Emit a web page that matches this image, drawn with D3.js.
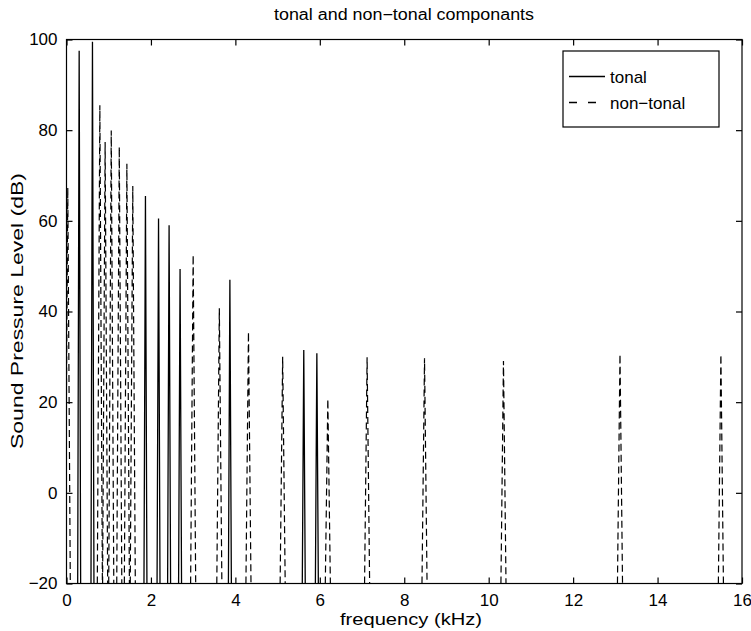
<!DOCTYPE html>
<html>
<head>
<meta charset="utf-8">
<script src="https://cdn.jsdelivr.net/npm/d3@7/dist/d3.min.js"></script>
<style>
  html, body { margin: 0; padding: 0; background: #fff; }
  svg { display: block; }
  text { font-family: "Liberation Sans", Arial, Helvetica, sans-serif; fill: #000; }
</style>
</head>
<body>
<svg id="chart" width="751" height="631"></svg>
<script>
// ---- data ----
const tonalFreq = [0.30, 0.615, 1.87, 2.18, 2.43, 2.69, 3.87, 5.62, 5.93];
const tonalSPL  = [97.5, 99.5, 65.5, 60.5, 59.0, 49.4, 47.0, 31.5, 30.8];

const nonTonalFreq = [0.03, 0.79, 0.915, 1.06, 1.25, 1.43, 1.57, 3.00, 3.62, 4.31, 5.12, 6.19, 7.12, 8.48, 10.35, 13.11, 15.50];
const nonTonalSPL  = [67.3, 85.5, 77.4, 79.9, 76.3, 72.6, 67.7, 52.5, 40.7, 35.5, 30.0, 20.7, 29.9, 29.7, 29.1, 30.6, 30.5];

const xTicks = [0, 2, 4, 6, 8, 10, 12, 14, 16];
const yTicks = [-20, 0, 20, 40, 60, 80, 100];
const floorLevel = -20;

const titleText = "tonal and non\u2212tonal componants";
const xLabel = "frequency (kHz)";
const yLabel = "Sound Pressure Level (dB)";
const legendLabels = ["tonal", "non\u2212tonal"];

// ---- layout ----
const margin = { left: 66.5, right: 9, top: 39.5, bottom: 47.5 };
const W = 751, H = 631;
const svg = d3.select("#chart");

const x = d3.scaleLinear().domain([0, 16]).range([margin.left, W - margin.right]);
const y = d3.scaleLinear().domain([-20, 100]).range([H - margin.bottom, margin.top]);

svg.append("defs").append("clipPath").attr("id", "clip")
  .append("rect")
  .attr("x", x(0)).attr("y", y(100))
  .attr("width", x(16) - x(0)).attr("height", y(-20) - y(100));

const fontSize = 17;

// spikes
const tonalHalf = 0.035, nonTonalHalf = 0.06;
const line = d3.line().x(d => x(d[0])).y(d => y(d[1]));
function spike(f, v, hw) {
  return [[f - hw, floorLevel], [f, v], [f + hw, floorLevel]];
}
const plotG = svg.append("g").attr("clip-path", "url(#clip)");

plotG.selectAll("path.nontonal")
  .data(nonTonalFreq.map((f, i) => spike(f, nonTonalSPL[i], nonTonalHalf)))
  .enter().append("path")
  .attr("class", "nontonal")
  .attr("d", line)
  .attr("fill", "none")
  .attr("stroke", "#000")
  .attr("stroke-width", 1.2)
  .attr("stroke-dasharray", "7,4");

plotG.selectAll("path.tonal")
  .data(tonalFreq.map((f, i) => spike(f, tonalSPL[i], tonalHalf)))
  .enter().append("path")
  .attr("class", "tonal")
  .attr("d", line)
  .attr("fill", "none")
  .attr("stroke", "#000")
  .attr("stroke-width", 1.3);

// axes frame
svg.append("rect")
  .attr("x", x(0)).attr("y", y(100))
  .attr("width", x(16) - x(0)).attr("height", y(-20) - y(100))
  .attr("fill", "none").attr("stroke", "#000").attr("stroke-width", 1.2);

const tickLen = 6;
const xAxisB = d3.axisBottom(x).tickValues(xTicks).tickSizeInner(-tickLen).tickSizeOuter(0).tickPadding(tickLen + 4)
  .tickFormat(d => String(d));
const gxb = svg.append("g").attr("transform", `translate(0,${y(-20)})`).call(xAxisB);
const xAxisT = d3.axisTop(x).tickValues(xTicks).tickSizeInner(-tickLen).tickSizeOuter(0).tickFormat("");
const gxt = svg.append("g").attr("transform", `translate(0,${y(100)})`).call(xAxisT);
const yAxisL = d3.axisLeft(y).tickValues(yTicks).tickSizeInner(-tickLen).tickSizeOuter(0).tickPadding(tickLen + 3)
  .tickFormat(d => d < 0 ? "\u2212" + Math.abs(d) : String(d));
const gyl = svg.append("g").attr("transform", `translate(${x(0)},0)`).call(yAxisL);
const yAxisR = d3.axisRight(y).tickValues(yTicks).tickSizeInner(-tickLen).tickSizeOuter(0).tickFormat("");
const gyr = svg.append("g").attr("transform", `translate(${x(16)},0)`).call(yAxisR);

[gxb, gxt, gyl, gyr].forEach(g => {
  g.select(".domain").remove();
  g.selectAll(".tick line").attr("stroke", "#000").attr("stroke-width", 1.2);
  g.selectAll(".tick text").attr("font-size", fontSize).attr("font-family", "Liberation Sans, Arial, sans-serif").attr("fill", "#000");
});

// title and labels
svg.append("text").attr("x", 404).attr("y", 20)
  .attr("text-anchor", "middle").attr("font-size", 16)
  .attr("textLength", 260).attr("lengthAdjust", "spacingAndGlyphs").text(titleText);
svg.append("text").attr("x", 411).attr("y", 625)
  .attr("text-anchor", "middle").attr("font-size", 17)
  .attr("textLength", 142).attr("lengthAdjust", "spacingAndGlyphs").text(xLabel);
svg.append("text").attr("transform", `translate(23,311) rotate(-90)`)
  .attr("text-anchor", "middle").attr("font-size", 17)
  .attr("textLength", 276).attr("lengthAdjust", "spacingAndGlyphs").text(yLabel);

// legend
const lg = svg.append("g");
lg.append("rect").attr("x", 563).attr("y", 51).attr("width", 156).attr("height", 76)
  .attr("fill", "#fff").attr("stroke", "#000").attr("stroke-width", 1.2);
const legendDash = [null, "8,11"];
legendLabels.forEach((lab, i) => {
  const ly = 76.5 + i * 26;
  const ln = lg.append("line").attr("x1", 569).attr("x2", 605).attr("y1", ly).attr("y2", ly)
    .attr("stroke", "#000").attr("stroke-width", 1.3);
  if (legendDash[i]) ln.attr("stroke-dasharray", legendDash[i]);
  lg.append("text").attr("x", 610).attr("y", ly + 6).attr("font-size", fontSize).text(lab);
});
</script>
</body>
</html>
